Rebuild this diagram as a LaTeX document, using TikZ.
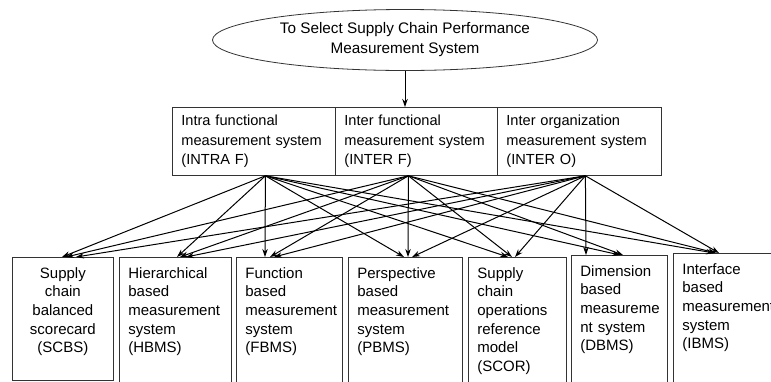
\documentclass[tikz,border=0pt]{standalone}
\usepackage{fontspec}
\setmainfont{Liberation Sans}
\usetikzlibrary{arrows.meta,shapes.geometric}
\hyphenpenalty=10000

\begin{document}
\begin{tikzpicture}[x=1pt,y=-1pt,
  topbox/.style={draw=black!80,line width=0.8pt,anchor=north west,inner xsep=9pt,inner ysep=0pt,minimum height=68pt,align=left,font=\fontsize{14.6}{19.5}\selectfont},
  sysbox/.style={draw=black!80,line width=0.8pt,anchor=north west,inner xsep=9pt,inner ysep=10pt,align=left,text depth=125pt,font=\fontsize{15}{18.6}\selectfont},
  arr/.style={line width=1pt,-{Stealth[length=8pt,width=5.5pt]}}]

  \useasboundingbox (0,0) rectangle (771,381);

  \node[draw=black!80,line width=0.8pt,ellipse,inner sep=0pt,minimum width=385pt,minimum height=61pt,align=center,font=\fontsize{15.3}{20}\selectfont] (goal) at (405,40) {To Select Supply Chain Performance\\Measurement System};

  \node[topbox,text width=145pt] (intraf) at (172,107) {Intra functional\\measurement system\\(INTRA F)};
  \node[topbox,text width=144pt] (interf) at (335,107) {Inter functional\\measurement system\\(INTER F)};
  \node[topbox,text width=146pt] (intero) at (497,107) {Inter organization\\measurement system\\(INTER O)};

  \draw[arr] (goal.south) -- (goal.south |- interf.north);

  \node[sysbox,text width=83pt,align=center,text depth=92pt] (scbs) at (12,257) {Supply\\chain\\balanced\\scorecard\\(SCBS)};
  \node[sysbox,text width=94pt] (hbms) at (119,257) {Hierarchical\\based\\measurement\\system\\(HBMS)};
  \node[sysbox,text width=88pt] (fbms) at (236,257) {Function\\based\\measurement\\system\\(FBMS)};
  \node[sysbox,text width=96pt] (pbms) at (348,257) {Perspective\\based\\measurement\\system\\(PBMS)};
  \node[sysbox,text width=80pt] (scor) at (468,257) {Supply\\chain\\operations\\reference\\model\\(SCOR)};
  \node[sysbox,text width=78pt] (dbms) at (571,255) {Dimension\\based\\measureme\\nt system\\(DBMS)};
  \node[sysbox,text width=100pt] (ibms) at (673,253) {Interface\\based\\measurement\\system\\(IBMS)};

  % start points under the three top boxes
  \coordinate (srcA) at ([xshift=11.5pt]intraf.south);
  \coordinate (srcB) at ([xshift=-8pt]interf.south);
  \coordinate (srcC) at ([xshift=6pt]intero.south);

  \foreach \tgt/\a/\b/\c in {scbs/50/54/64, hbms/58/61/67, fbms/29/34/38, pbms/56/60/64,
                             scor/40/44/47, dbms/49/52/15, ibms/41/43/46}{
    \draw[arr] (srcA) -- ([xshift=\a pt]\tgt.north west);
    \draw[arr] (srcB) -- ([xshift=\b pt]\tgt.north west);
    \draw[arr] (srcC) -- ([xshift=\c pt]\tgt.north west);
  }

\end{tikzpicture}
\end{document}
